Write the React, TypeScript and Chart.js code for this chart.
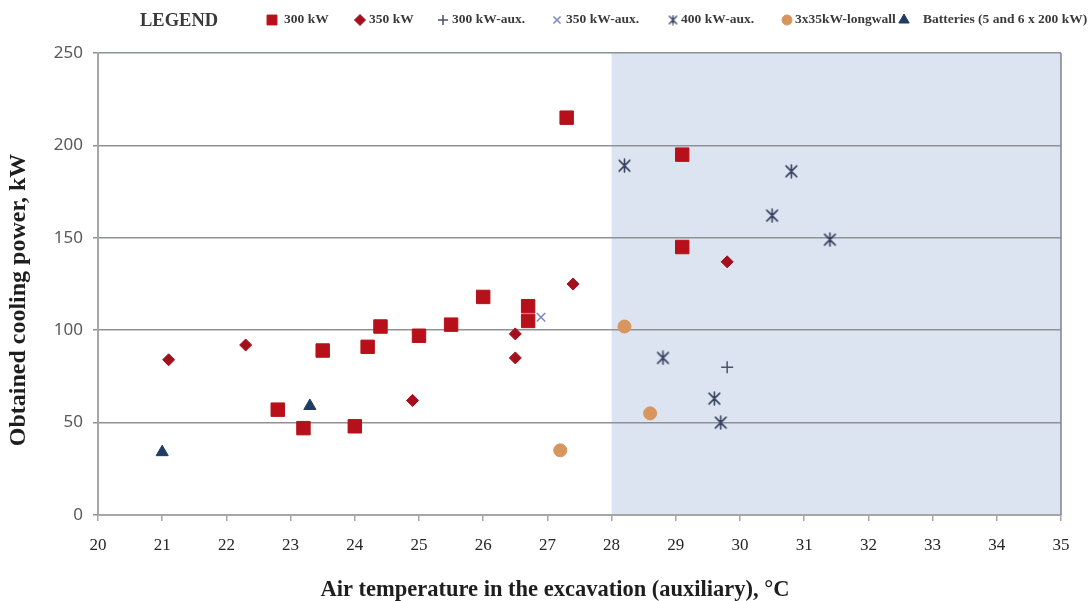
import React, { useEffect, useRef } from "react";
import { Chart, registerables } from "chart.js";
import { drawPoint } from "chart.js/helpers";

Chart.register(...registerables);

const xTicks = [20, 21, 22, 23, 24, 25, 26, 27, 28, 29, 30, 31, 32, 33, 34, 35];
const yTicks = [0, 50, 100, 150, 200, 250];

const xTitle = "Air temperature in the excavation (auxiliary), °C";
const yTitle = "Obtained cooling power, kW";
const legendTitle = "LEGEND";

const seriesLabels = [
  "300 kW",
  "350 kW",
  "300 kW-aux.",
  "350 kW-aux.",
  "400 kW-aux.",
  "3x35kW-longwall",
  "Batteries (5 and 6 x 200 kW)",
];

const kw300 = [
  { x: 27.3, y: 215 }, { x: 29.1, y: 195 }, { x: 29.1, y: 145 }, { x: 26.0, y: 118 },
  { x: 26.7, y: 113 }, { x: 26.7, y: 105 }, { x: 25.5, y: 103 }, { x: 24.4, y: 102 },
  { x: 25.0, y: 97 }, { x: 24.2, y: 91 }, { x: 23.5, y: 89 }, { x: 22.8, y: 57 },
  { x: 23.2, y: 47 }, { x: 24.0, y: 48 },
];
const kw350 = [
  { x: 21.1, y: 84 }, { x: 22.3, y: 92 }, { x: 24.9, y: 62 }, { x: 26.5, y: 98 },
  { x: 26.5, y: 85 }, { x: 27.4, y: 125 }, { x: 29.8, y: 137 },
];
const kw300aux = [{ x: 29.8, y: 80 }];
const kw350aux = [{ x: 26.9, y: 107 }];
const kw400aux = [
  { x: 28.2, y: 189 }, { x: 30.8, y: 186 }, { x: 30.5, y: 162 }, { x: 31.4, y: 149 },
  { x: 28.8, y: 85 }, { x: 29.6, y: 63 }, { x: 29.7, y: 50 },
];
const longwall = [{ x: 28.2, y: 102 }, { x: 28.6, y: 55 }, { x: 27.2, y: 35 }];
const batteries = [{ x: 21.0, y: 34 }, { x: 23.3, y: 59 }];

const shadeRange = [28, 35];

const styles = [
  { pointStyle: "rect", color: "#B8101A", radius: 9.5, bw: 1 },
  { pointStyle: "rectRot", color: "#A3101C", radius: 6, bw: 1 },
  { pointStyle: "cross", color: "#4A5468", radius: 6, bw: 1.5 },
  { pointStyle: "crossRot", color: "#7E86C2", radius: 6, bw: 1.5 },
  { pointStyle: "asterisk", color: "#36425F", radius: 6.5, bw: 1.5 },
  { pointStyle: "circle", color: "#D6965E", radius: 6.5, bw: 1 },
  { pointStyle: "triangle", color: "#1F3D63", radius: 7, bw: 1 },
];

const legendPos = [
  { mx: 272, tx: 284, r: 7 },
  { mx: 360, tx: 369, r: 5.5 },
  { mx: 443, tx: 452, r: 5 },
  { mx: 557, tx: 566, r: 5 },
  { mx: 673, tx: 681, r: 5 },
  { mx: 787, tx: 795, r: 5 },
  { mx: 904, tx: 923, r: 6 },
];

function makeAsterisk(size: number, color: string, lw: number) {
  const c = document.createElement("canvas");
  c.width = size;
  c.height = size;
  const g = c.getContext("2d")!;
  const h = size / 2;
  const r = h - 1;
  const d = r * 0.82;
  g.strokeStyle = color;
  g.lineWidth = lw;
  g.lineCap = "round";
  g.beginPath();
  g.moveTo(h, h - r); g.lineTo(h, h + r);
  g.moveTo(h - d, h - d); g.lineTo(h + d, h + d);
  g.moveTo(h - d, h + d); g.lineTo(h + d, h - d);
  g.stroke();
  return c;
}

export default function App() {
  const ref = useRef<HTMLCanvasElement>(null);
  useEffect(() => {
    const astBig = makeAsterisk(15, styles[4].color, 1.6);
    const astSmall = makeAsterisk(11, styles[4].color, 1.3);
    const resolveStyle = (i: number, small: boolean) =>
      styles[i].pointStyle === "asterisk" ? (small ? astSmall : astBig) : styles[i].pointStyle;

    const allData = [kw300, kw350, kw300aux, kw350aux, kw400aux, longwall, batteries];
    const datasets = allData.map((d, i) => ({
      label: seriesLabels[i],
      data: d,
      pointStyle: resolveStyle(i, false) as any,
      pointRadius: styles[i].radius,
      pointBackgroundColor: styles[i].color,
      pointBorderColor: styles[i].color,
      pointBorderWidth: styles[i].bw,
      showLine: false,
    }));

    const shadePlugin = {
      id: "shade",
      beforeDraw(chart: any) {
        const { ctx, chartArea, scales } = chart;
        const x0 = scales.x.getPixelForValue(shadeRange[0]);
        const x1 = scales.x.getPixelForValue(shadeRange[1]);
        ctx.save();
        ctx.fillStyle = "#DCE4F1";
        ctx.fillRect(x0, chartArea.top, x1 - x0, chartArea.bottom - chartArea.top);
        ctx.restore();
      },
      beforeDatasetsDraw(chart: any) {
        const { ctx, chartArea, scales } = chart;
        const x1 = scales.x.getPixelForValue(shadeRange[1]);
        ctx.save();
        ctx.strokeStyle = "#7F858C";
        ctx.lineWidth = 1.5;
        ctx.beginPath();
        ctx.moveTo(x1, chartArea.top);
        ctx.lineTo(x1, chartArea.bottom);
        ctx.stroke();
        ctx.restore();
      },
      afterDraw(chart: any) {
        const { ctx } = chart;
        ctx.save();
        // axis titles
        ctx.fillStyle = "#1E1E1E";
        ctx.textAlign = "center";
        ctx.textBaseline = "middle";
        ctx.font = "bold 22.5px 'Liberation Serif'";
        ctx.fillText(xTitle, 555, 590);
        ctx.save();
        ctx.translate(19, 300);
        ctx.rotate(-Math.PI / 2);
        ctx.font = "bold 24px 'Liberation Serif'";
        ctx.fillText(yTitle, 0, 0);
        ctx.restore();
        // legend
        ctx.textAlign = "left";
        ctx.fillStyle = "#3A3A3A";
        ctx.font = "bold 18.5px 'Liberation Serif'";
        ctx.fillText(legendTitle, 140, 21);
        ctx.font = "bold 13.5px 'Liberation Serif'";
        chart.data.datasets.forEach((ds: any, i: number) => {
          const p = legendPos[i];
          ctx.fillStyle = styles[i].color;
          ctx.strokeStyle = styles[i].color;
          ctx.lineWidth = styles[i].bw;
          drawPoint(ctx, { pointStyle: resolveStyle(i, true) as any, radius: p.r, rotation: 0, borderWidth: styles[i].bw }, p.mx, 20);
          ctx.fillStyle = "#3A3A3A";
          ctx.fillText(ds.label, p.tx, 20);
        });
        ctx.restore();
      },
    };

    const chart = new Chart(ref.current!, {
      type: "scatter",
      data: { datasets },
      plugins: [shadePlugin],
      options: {
        animation: false,
        responsive: false,
        layout: { padding: { top: 53, right: 31, bottom: 0, left: 0 } },
        plugins: { legend: { display: false }, tooltip: { enabled: false } },
        scales: {
          x: {
            type: "linear",
            min: 20,
            max: 35,
            afterBuildTicks: (s: any) => { s.ticks = xTicks.map((v) => ({ value: v })); },
            afterFit: (s: any) => { s.height = 86; },
            grid: { drawOnChartArea: false, drawTicks: true, tickLength: 6, color: "#A6A6A6", lineWidth: 1.5 },
            border: { color: "#A6A6A6", width: 2 },
            ticks: {
              color: "#262626",
              font: { family: "'Liberation Serif'", size: 17 },
              padding: 14,
            },
          },
          y: {
            type: "linear",
            min: 0,
            max: 250,
            afterBuildTicks: (s: any) => { s.ticks = yTicks.map((v) => ({ value: v })); },
            afterFit: (s: any) => { s.width = 98; },
            grid: { color: "#8E9196", lineWidth: 1.5, drawTicks: true, tickLength: 5 },
            border: { color: "#A6A6A6", width: 2 },
            ticks: {
              color: "#595959",
              font: { family: "'Noto Sans'", size: 17 },
              padding: 10,
            },
          },
        },
      },
    });
    return () => chart.destroy();
  }, []);
  return (
    <div style={{ position: "fixed", left: 0, top: 0, width: 1092, height: 601, background: "#fff" }}>
      <canvas ref={ref} width={1092} height={601} style={{ width: 1092, height: 601 }} />
    </div>
  );
}
